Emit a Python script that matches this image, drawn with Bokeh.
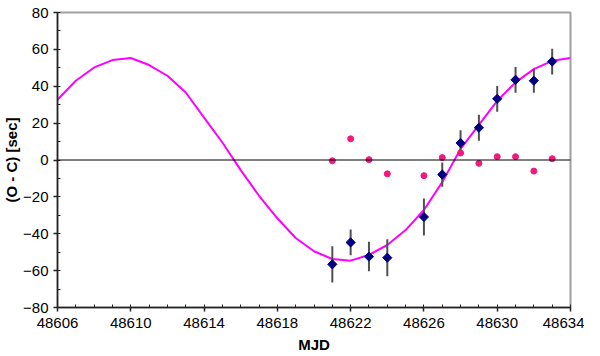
import numpy as np
from bokeh.plotting import figure
from bokeh.models import Range1d, FixedTicker, Span, NumeralTickFormatter
from bokeh.embed import file_html
from bokeh.resources import INLINE

# observed O-C (navy diamonds) with error bars
obs_mjd = [48621, 48622, 48623, 48624, 48626, 48627, 48628, 48629, 48630, 48631, 48632, 48633]
obs_oc = [-56.6, -44.7, -52.4, -53.0, -30.9, -7.9, 9.2, 17.5, 33.2, 43.5, 43.0, 53.4]
obs_err = [9.8, 7.0, 8.0, 10.0, 10.0, 6.6, 7.0, 7.0, 7.0, 7.0, 6.5, 7.0]

# residuals (pink dots)
res_oc = [-0.4, 11.5, 0.2, -7.5, -8.5, 1.3, 3.8, -1.8, 1.8, 1.8, -6.0, 0.7]

# fitted curve (magenta)
fit_mjd = list(range(48606, 48635))
fit_oc = [32.7, 43.0, 50.2, 54.2, 55.3, 51.5, 45.7, 36.6, 23.0, 9.5,
          -5.5, -19.4, -31.6, -42.3, -49.5, -53.7, -54.6, -51.5, -46.1, -38.0,
          -27.1, -12.0, 6.0, 19.0, 32.1, 42.1, 49.3, 53.8, 55.3]

x_ticks = list(range(48606, 48635, 4))
x_minor = list(range(48606, 48635, 1))
y_ticks = list(range(-80, 81, 20))
y_minor = list(range(-80, 81, 10))

FONT = "Liberation Sans"

p = figure(width=584, height=356, output_backend="svg", toolbar_location=None,
           x_range=Range1d(48606, 48634), y_range=Range1d(-80, 80),
           min_border_left=49, min_border_right=14, min_border_top=12, min_border_bottom=49)
p.xgrid.visible = False
p.ygrid.visible = False
p.outline_line_color = "#a0a0a0"
p.outline_line_width = 2
p.background_fill_color = "white"
p.border_fill_color = "white"

p.add_layout(Span(location=0, dimension="width", line_color="black", line_width=1))

# curve
p.line(fit_mjd, fit_oc, line_color="#ff00ff", line_width=2)

# error bars
lo = [v - e for v, e in zip(obs_oc, obs_err)]
hi = [v + e for v, e in zip(obs_oc, obs_err)]
p.segment(x0=obs_mjd, y0=lo, x1=obs_mjd, y1=hi, line_color="#505050", line_width=2)

# residuals
p.scatter(obs_mjd, res_oc, marker="circle", size=6, fill_color="#f0197d", line_color="#f0197d")

# observed
p.scatter(obs_mjd, obs_oc, marker="square", angle=np.pi / 4, size=6.5,
          fill_color="#000080", line_color="#000080")

for ax in (p.xaxis[0], p.yaxis[0]):
    ax.axis_line_color = "#222222"
    ax.axis_line_width = 1.5
    ax.major_tick_line_color = "#222222"
    ax.minor_tick_line_color = "#222222"
    ax.major_tick_line_width = 1.5
    ax.minor_tick_line_width = 1
    ax.major_tick_in = 0
    ax.major_tick_out = 4
    ax.minor_tick_in = 3
    ax.minor_tick_out = 0
    ax.major_label_text_font = FONT
    ax.major_label_text_font_size = "15px"
    ax.major_label_text_color = "black"
    ax.axis_label_text_font = FONT
    ax.axis_label_text_font_size = "15px"
    ax.axis_label_text_font_style = "bold"
    ax.axis_label_text_color = "black"

p.xaxis.ticker = FixedTicker(ticks=x_ticks, minor_ticks=x_minor)
p.yaxis.ticker = FixedTicker(ticks=y_ticks, minor_ticks=y_minor)
p.xaxis.formatter = NumeralTickFormatter(format="0")
p.xaxis.axis_label = "MJD"
p.yaxis.axis_label = "(O - C) [sec]"
p.xaxis.major_label_standoff = 6
p.xaxis.axis_label_standoff = 5
p.yaxis.major_label_standoff = 5
p.yaxis.axis_label_standoff = 0

open("out.html", "w").write(file_html(p, INLINE))
